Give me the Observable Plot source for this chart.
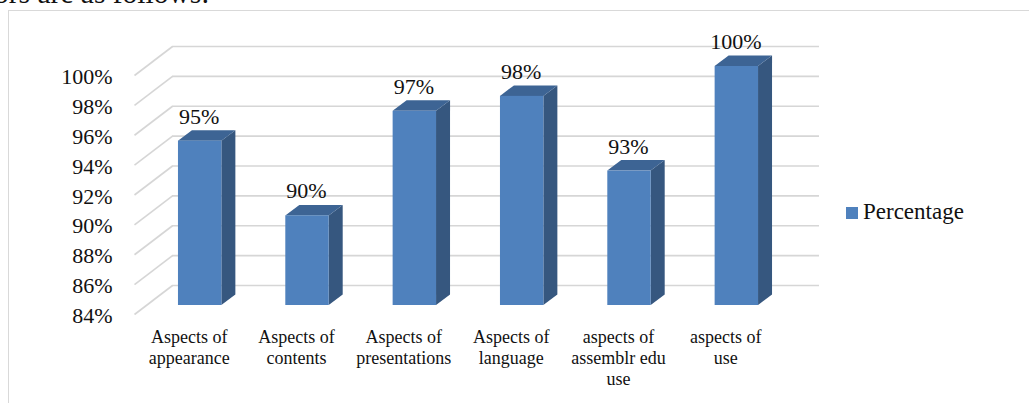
<!DOCTYPE html>
<html>
<head>
<meta charset="utf-8">
<script src="https://cdn.jsdelivr.net/npm/d3@7"></script>
<script src="https://cdn.jsdelivr.net/npm/@observablehq/plot@0.6"></script>
<style>
  html, body { margin: 0; padding: 0; background: #fff; }
  #page { position: relative; width: 1029px; height: 403px; overflow: hidden; background: #fff;
          font-family: "Liberation Serif", "Times New Roman", serif; color: #111; }
  #heading { position: absolute; right: 819.5px; top: -20.7px; font-size: 29.5px; line-height: 1; white-space: nowrap; }
  #frame { position: absolute; left: 8px; top: 10px; width: 1100px; height: 500px;
           border-top: 1.5px solid #d9d9d9; border-left: 1.5px solid #d9d9d9; }
  #chart { position: absolute; left: 0; top: 0; }
  #chart svg text { font-family: "Liberation Serif", "Times New Roman", serif; }
  #legend { position: absolute; left: 846px; top: 200.2px; font-size: 23px; line-height: 1; white-space: nowrap; }
  #legend .swatch { position: absolute; left: 0; top: 6.8px; width: 12px; height: 12px; background: #4f81bd; }
  #legend .label { position: absolute; left: 17px; top: 0; }
</style>
</head>
<body>
<div id="page">
  <div id="heading">ors are as follows:</div>
  <div id="frame"></div>
  <div id="chart"></div>
  <div id="legend"><span class="swatch"></span><span class="label"></span></div>
</div>
<script>
// Categories, values and tick labels
const categories = [
  "Aspects of\nappearance",
  "Aspects of\ncontents",
  "Aspects of\npresentations",
  "Aspects of\nlanguage",
  "aspects of\nassemblr edu\nuse",
  "aspects of\nuse"
];
const percentages = [95, 90, 97, 98, 93, 100];
const yTicks = [84, 86, 88, 90, 92, 94, 96, 98, 100];
const seriesName = "Percentage";

// Layout of the back wall of the 3-D plot
const W = 1029, H = 403;
const mL = 172, mR = 213, mT = 46, mB = 118;
const yMin = 84, yMax = 100;
const kx = (W - mL - mR) / categories.length;   // px per category
const ky = (H - mT - mB) / (yMax - yMin);       // px per percentage point

// Pixel geometry of the pseudo-3D look, converted into data units
const barHalf = 21.7 / kx;       // half width of a bar's front face
const depthX = 14 / kx;          // bar depth, horizontal
const depthY = 10.5 / ky;        // bar depth, vertical
const floorX = 38 / kx, floorY = 29 / ky;  // floor edge in front of the wall
const bar = {dx: -26, dy: 20};   // bars sit between the floor edge and the wall

const serif = "Liberation Serif, Times New Roman, serif";
const colors = {front: "#4f81bd", side: "#36577f", top: "#3d6494", grid: "#d6d6d6"};

const rows = categories.map((c, i) => ({i, c, v: percentages[i]}));

// Right-hand side face of each bar
const sides = rows.flatMap(d => [
  {bar: d.i, x: d.i + barHalf, y1: yMin, y2: d.v},
  {bar: d.i, x: d.i + barHalf + depthX, y1: yMin + depthY, y2: d.v + depthY}
]);
// Top face of each bar
const tops = rows.flatMap(d => [
  {bar: d.i, y: d.v, x1: d.i - barHalf, x2: d.i + barHalf},
  {bar: d.i, y: d.v + depthY, x1: d.i - barHalf + depthX, x2: d.i + barHalf + depthX}
]);

const chart = Plot.plot({
  width: W,
  height: H,
  marginLeft: mL,
  marginRight: mR,
  marginTop: mT,
  marginBottom: mB,
  x: {type: "linear", domain: [-0.5, categories.length - 0.5], axis: null},
  y: {type: "linear", domain: [yMin, yMax], axis: null},
  style: {background: "transparent", overflow: "visible", color: "#111"},
  marks: [
    // floor/side edges of the gridlines
    Plot.link(yTicks, {
      x1: () => -0.5 - floorX, y1: t => t - floorY,
      x2: () => -0.5, y2: t => t,
      stroke: colors.grid, strokeWidth: 1.6
    }),
    // gridlines on the back wall
    Plot.ruleY(yTicks, {stroke: colors.grid, strokeWidth: 1.6, insetRight: -3}),
    // bars: side, top and front faces
    Plot.areaY(sides, {x: "x", y1: "y1", y2: "y2", z: "bar", fill: colors.side, dx: bar.dx, dy: bar.dy}),
    Plot.areaX(tops, {y: "y", x1: "x1", x2: "x2", z: "bar", fill: colors.top, dx: bar.dx, dy: bar.dy}),
    Plot.rect(rows, {
      x1: d => d.i - barHalf, x2: d => d.i + barHalf,
      y1: () => yMin, y2: "v",
      fill: colors.front, dx: bar.dx, dy: bar.dy
    }),
    // value labels
    Plot.text(rows, {x: "i", y: "v", text: d => `${d.v}%`, lineAnchor: "bottom", dx: -27, dy: 2.5,
      fontSize: 22, fontFamily: serif, fill: "#111"}),
    // y tick labels
    Plot.text(yTicks, {x: () => -0.5, y: t => t, text: t => `${t}%`, textAnchor: "end", dx: -60, dy: 30.5,
      fontSize: 22, fontFamily: serif, fill: "#111"}),
    // category labels
    Plot.text(rows, {x: "i", y: () => yMin, text: "c", lineAnchor: "top", lineHeight: 21 / 18, dx: -37, dy: 43,
      fontSize: 18, fontFamily: serif, fill: "#111"})
  ]
});

document.getElementById("chart").appendChild(chart);
document.querySelector("#legend .label").textContent = seriesName;
</script>
</body>
</html>
